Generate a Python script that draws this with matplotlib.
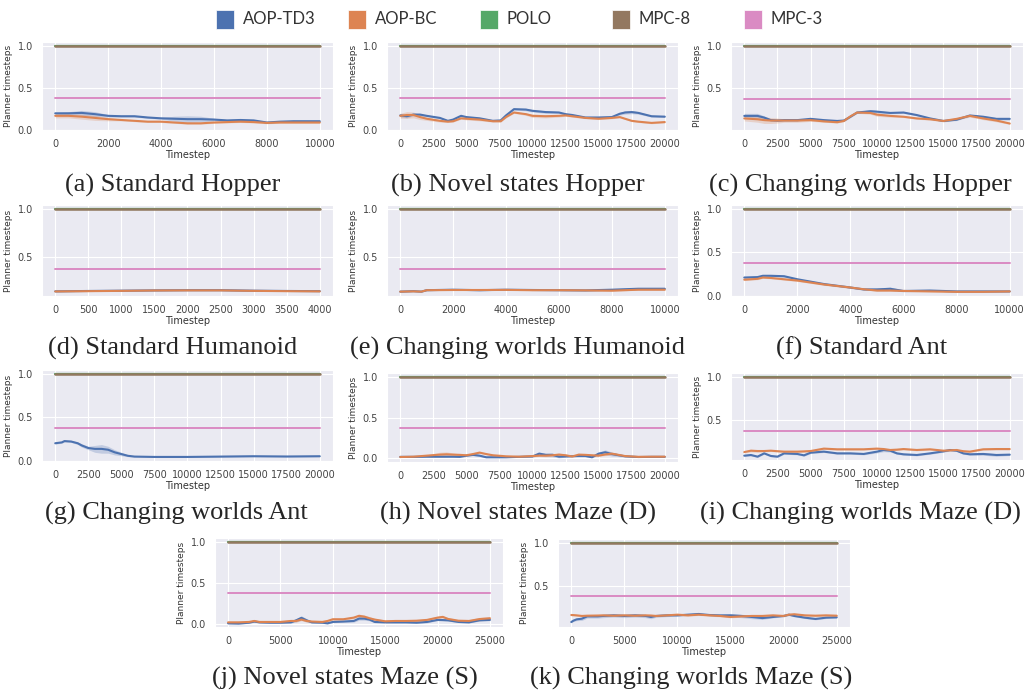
import matplotlib
matplotlib.use("Agg")
import matplotlib.pyplot as plt
import matplotlib.patches as mpatches
from matplotlib.ticker import MultipleLocator
import seaborn as sns
import numpy as np

sns.set_style("darkgrid")
plt.rcParams['font.family'] = ['DejaVu Sans']

# ---- data ----
series_names = ["AOP-TD3", "AOP-BC", "POLO", "MPC-8", "MPC-3"]
series_colors = ["#4C72B0", "#DD8452", "#55A868", "#937860", "#DA8BC3"]
polo_value = 1.0
mpc8_value = 1.0
mpc3_value = 0.375

captions = ["(a) Standard Hopper", "(b) Novel states Hopper", "(c) Changing worlds Hopper",
            "(d) Standard Humanoid", "(e) Changing worlds Humanoid", "(f) Standard Ant",
            "(g) Changing worlds Ant", "(h) Novel states Maze (D)", "(i) Changing worlds Maze (D)",
            "(j) Novel states Maze (S)", "(k) Changing worlds Maze (S)"]

a_x = [0, 500, 1000, 1500, 2000, 2500, 3000, 3500, 4000, 4500, 5000, 5500, 6000, 6500, 7000, 7500, 8000, 8500, 9000, 9500, 10000]
a_td3 = [0.195, 0.195, 0.2, 0.185, 0.165, 0.16, 0.16, 0.145, 0.135, 0.13, 0.125, 0.125, 0.12, 0.11, 0.115, 0.11, 0.085, 0.095, 0.1, 0.1, 0.1]
a_td3_sd = [0.01, 0.02, 0.03, 0.03, 0.015, 0.01, 0.01, 0.01, 0.01, 0.03, 0.04, 0.035, 0.015, 0.01, 0.01, 0.01, 0.01, 0.01, 0.01, 0.01, 0.01]
a_bc = [0.165, 0.165, 0.155, 0.14, 0.125, 0.115, 0.105, 0.095, 0.095, 0.085, 0.075, 0.075, 0.085, 0.09, 0.095, 0.09, 0.08, 0.085, 0.085, 0.085, 0.085]
a_bc_sd = [0.025, 0.025, 0.03, 0.03, 0.02, 0.01, 0.01, 0.01, 0.01, 0.01, 0.01, 0.01, 0.01, 0.01, 0.01, 0.01, 0.01, 0.01, 0.01, 0.01, 0.01]

b_x = [0, 500, 1000, 1500, 2000, 3000, 3600, 4000, 4600, 5000, 6000, 7000, 7600, 8000, 8600, 9500, 10000, 11000, 12000, 12500, 13000, 14000, 15000, 16000, 16600, 17000, 17500, 18000, 19000, 20000]
b_td3 = [0.17, 0.16, 0.18, 0.18, 0.165, 0.14, 0.105, 0.12, 0.165, 0.15, 0.135, 0.105, 0.11, 0.17, 0.245, 0.24, 0.225, 0.21, 0.205, 0.185, 0.175, 0.145, 0.145, 0.15, 0.19, 0.205, 0.21, 0.2, 0.16, 0.155]
b_td3_sd = [0.02, 0.02, 0.015, 0.01, 0.01, 0.01, 0.01, 0.01, 0.01, 0.01, 0.01, 0.01, 0.01, 0.01, 0.01, 0.015, 0.015, 0.015, 0.01, 0.01, 0.01, 0.01, 0.01, 0.01, 0.015, 0.02, 0.02, 0.015, 0.01, 0.01]
b_bc = [0.165, 0.175, 0.175, 0.15, 0.13, 0.105, 0.095, 0.1, 0.135, 0.13, 0.12, 0.1, 0.1, 0.15, 0.205, 0.185, 0.165, 0.16, 0.165, 0.17, 0.16, 0.14, 0.13, 0.14, 0.15, 0.13, 0.105, 0.095, 0.08, 0.09]
b_bc_sd = [0.03, 0.04, 0.035, 0.03, 0.02, 0.015, 0.01, 0.01, 0.01, 0.015, 0.015, 0.01, 0.01, 0.01, 0.01, 0.015, 0.02, 0.02, 0.015, 0.01, 0.01, 0.01, 0.01, 0.01, 0.01, 0.01, 0.01, 0.01, 0.01, 0.01]

c_x = [0, 1000, 1500, 2000, 2500, 3000, 4000, 5000, 6000, 7000, 7500, 8000, 8500, 9500, 10000, 11000, 12000, 13000, 14000, 15000, 16000, 17000, 18000, 19000, 20000]
c_td3 = [0.175, 0.175, 0.155, 0.125, 0.12, 0.125, 0.125, 0.14, 0.125, 0.115, 0.12, 0.165, 0.215, 0.23, 0.225, 0.21, 0.215, 0.185, 0.145, 0.115, 0.13, 0.18, 0.165, 0.14, 0.14]
c_td3_sd = [0.03, 0.03, 0.02, 0.01, 0.01, 0.01, 0.01, 0.01, 0.01, 0.01, 0.01, 0.01, 0.01, 0.02, 0.015, 0.01, 0.01, 0.01, 0.01, 0.01, 0.01, 0.01, 0.01, 0.015, 0.015]
c_bc = [0.145, 0.135, 0.125, 0.12, 0.12, 0.12, 0.12, 0.125, 0.11, 0.10, 0.115, 0.17, 0.215, 0.21, 0.19, 0.175, 0.165, 0.145, 0.135, 0.115, 0.14, 0.175, 0.145, 0.12, 0.085]
c_bc_sd = [0.03, 0.035, 0.04, 0.035, 0.03, 0.02, 0.02, 0.015, 0.01, 0.01, 0.01, 0.01, 0.01, 0.015, 0.02, 0.015, 0.01, 0.01, 0.01, 0.01, 0.01, 0.015, 0.015, 0.015, 0.01]

d_x = [0, 500, 1000, 1500, 2000, 2500, 3000, 3500, 4000]
d_td3 = [0.148, 0.152, 0.155, 0.158, 0.16, 0.16, 0.155, 0.152, 0.15]
d_td3_sd = [0.004, 0.004, 0.004, 0.004, 0.004, 0.004, 0.004, 0.004, 0.004]
d_bc = [0.147, 0.15, 0.153, 0.157, 0.158, 0.158, 0.153, 0.15, 0.148]
d_bc_sd = [0.004, 0.004, 0.004, 0.004, 0.004, 0.004, 0.004, 0.004, 0.004]

e_x = [0, 500, 800, 1000, 2000, 3000, 4000, 5000, 6000, 7000, 8000, 9000, 10000]
e_td3 = [0.145, 0.15, 0.145, 0.16, 0.165, 0.16, 0.165, 0.162, 0.16, 0.158, 0.165, 0.175, 0.175]
e_td3_sd = [0.004, 0.004, 0.004, 0.005, 0.005, 0.008, 0.005, 0.005, 0.005, 0.005, 0.01, 0.01, 0.01]
e_bc = [0.145, 0.148, 0.145, 0.16, 0.162, 0.162, 0.163, 0.16, 0.16, 0.158, 0.155, 0.165, 0.165]
e_bc_sd = [0.004, 0.004, 0.004, 0.005, 0.005, 0.005, 0.005, 0.005, 0.005, 0.005, 0.005, 0.005, 0.005]

f_x = [0, 500, 700, 1000, 1500, 2000, 3000, 4000, 4500, 5000, 5500, 6000, 7000, 8000, 9000, 10000]
f_td3 = [0.21, 0.215, 0.23, 0.23, 0.225, 0.19, 0.135, 0.095, 0.073, 0.073, 0.08, 0.055, 0.06, 0.05, 0.05, 0.05]
f_td3_sd = [0.01, 0.01, 0.01, 0.01, 0.01, 0.01, 0.01, 0.01, 0.01, 0.015, 0.02, 0.01, 0.008, 0.005, 0.005, 0.005]
f_bc = [0.185, 0.195, 0.21, 0.205, 0.19, 0.175, 0.13, 0.095, 0.075, 0.06, 0.06, 0.055, 0.05, 0.045, 0.045, 0.05]
f_bc_sd = [0.01, 0.01, 0.01, 0.01, 0.01, 0.01, 0.01, 0.01, 0.008, 0.008, 0.008, 0.005, 0.005, 0.005, 0.005, 0.005]

g_x = [0, 500, 700, 1200, 1700, 2000, 2500, 3000, 3500, 4000, 4500, 5000, 5500, 6000, 7500, 10000, 12500, 15000, 17500, 20000]
g_td3 = [0.2, 0.21, 0.225, 0.22, 0.2, 0.175, 0.145, 0.135, 0.135, 0.125, 0.095, 0.075, 0.055, 0.046, 0.042, 0.042, 0.046, 0.05, 0.047, 0.05]
g_td3_sd = [0.01, 0.01, 0.01, 0.01, 0.015, 0.02, 0.02, 0.04, 0.05, 0.04, 0.03, 0.02, 0.01, 0.005, 0.005, 0.005, 0.005, 0.005, 0.005, 0.005]

h_x = [0, 1000, 2000, 3000, 3500, 4000, 4500, 5000, 5500, 6000, 6500, 7000, 8000, 9000, 10000, 10500, 11000, 11500, 12000, 12500, 13000, 13500, 14000, 14500, 15000, 15500, 16000, 17000, 18000, 19000, 20000]
h_td3 = [0.01, 0.01, 0.012, 0.012, 0.012, 0.012, 0.01, 0.025, 0.035, 0.025, 0.005, 0.005, 0.005, 0.01, 0.015, 0.05, 0.035, 0.035, 0.012, 0.015, 0.018, 0.02, 0.02, 0.005, 0.05, 0.067, 0.045, 0.017, 0.008, 0.01, 0.01]
h_td3_sd = [0.005, 0.005, 0.005, 0.005, 0.005, 0.005, 0.005, 0.01, 0.01, 0.01, 0.005, 0.005, 0.005, 0.005, 0.01, 0.02, 0.02, 0.025, 0.015, 0.01, 0.005, 0.005, 0.005, 0.005, 0.02, 0.03, 0.025, 0.01, 0.005, 0.005, 0.005]
h_bc = [0.008, 0.012, 0.025, 0.038, 0.042, 0.038, 0.035, 0.03, 0.045, 0.063, 0.045, 0.03, 0.017, 0.012, 0.02, 0.025, 0.025, 0.03, 0.038, 0.03, 0.015, 0.038, 0.035, 0.03, 0.025, 0.04, 0.05, 0.02, 0.01, 0.012, 0.012]
h_bc_sd = [0.005, 0.005, 0.01, 0.03, 0.03, 0.02, 0.01, 0.01, 0.01, 0.01, 0.01, 0.01, 0.005, 0.005, 0.01, 0.01, 0.015, 0.015, 0.02, 0.015, 0.01, 0.015, 0.01, 0.01, 0.01, 0.015, 0.015, 0.01, 0.005, 0.005, 0.005]

i_x = [0, 500, 1000, 1500, 2000, 2500, 3000, 4000, 4500, 5000, 6000, 7000, 8000, 9000, 10000, 10500, 11000, 11500, 12000, 13000, 14000, 15000, 15500, 16000, 16500, 17000, 18000, 19000, 20000]
i_td3 = [0.088, 0.096, 0.077, 0.115, 0.085, 0.077, 0.115, 0.108, 0.092, 0.123, 0.135, 0.115, 0.115, 0.108, 0.135, 0.154, 0.146, 0.115, 0.104, 0.096, 0.115, 0.138, 0.154, 0.146, 0.115, 0.104, 0.108, 0.096, 0.1]
i_td3_sd = [0.01, 0.01, 0.01, 0.01, 0.01, 0.01, 0.01, 0.01, 0.01, 0.01, 0.01, 0.01, 0.01, 0.01, 0.015, 0.02, 0.015, 0.01, 0.01, 0.01, 0.01, 0.01, 0.01, 0.01, 0.01, 0.01, 0.015, 0.015, 0.01]
i_bc = [0.13, 0.146, 0.142, 0.142, 0.146, 0.14, 0.135, 0.135, 0.138, 0.142, 0.17, 0.162, 0.162, 0.162, 0.17, 0.165, 0.154, 0.158, 0.165, 0.154, 0.162, 0.146, 0.15, 0.154, 0.14, 0.135, 0.162, 0.165, 0.165]
i_bc_sd = [0.01, 0.015, 0.015, 0.01, 0.01, 0.01, 0.01, 0.01, 0.01, 0.01, 0.01, 0.01, 0.01, 0.01, 0.01, 0.01, 0.01, 0.01, 0.01, 0.01, 0.01, 0.01, 0.01, 0.01, 0.01, 0.01, 0.01, 0.01, 0.01]

j_x = [0, 1000, 2000, 2500, 3000, 4000, 5000, 6000, 6500, 7000, 7500, 8000, 9000, 9500, 10000, 11000, 12000, 12500, 13000, 13500, 14000, 15000, 16000, 17000, 18000, 19000, 20000, 20500, 21000, 22000, 23000, 24000, 25000]
j_td3 = [0.008, 0.005, 0.016, 0.03, 0.02, 0.016, 0.016, 0.02, 0.045, 0.075, 0.045, 0.02, 0.016, 0.008, 0.025, 0.03, 0.037, 0.066, 0.066, 0.054, 0.025, 0.02, 0.02, 0.02, 0.016, 0.025, 0.05, 0.048, 0.045, 0.025, 0.02, 0.045, 0.05]
j_td3_sd = [0.008, 0.008, 0.008, 0.008, 0.008, 0.008, 0.008, 0.01, 0.02, 0.025, 0.02, 0.01, 0.008, 0.008, 0.008, 0.01, 0.015, 0.02, 0.02, 0.015, 0.01, 0.008, 0.008, 0.008, 0.008, 0.01, 0.01, 0.01, 0.01, 0.008, 0.008, 0.01, 0.01]
j_bc = [0.02, 0.02, 0.025, 0.037, 0.025, 0.025, 0.025, 0.037, 0.037, 0.054, 0.037, 0.03, 0.025, 0.037, 0.058, 0.058, 0.078, 0.1, 0.09, 0.07, 0.054, 0.033, 0.037, 0.037, 0.04, 0.05, 0.078, 0.087, 0.062, 0.04, 0.037, 0.06, 0.07]
j_bc_sd = [0.012, 0.012, 0.012, 0.015, 0.012, 0.012, 0.012, 0.015, 0.015, 0.015, 0.015, 0.012, 0.012, 0.012, 0.012, 0.012, 0.015, 0.02, 0.02, 0.02, 0.015, 0.012, 0.012, 0.012, 0.012, 0.015, 0.015, 0.015, 0.015, 0.012, 0.015, 0.02, 0.02]

k_x = [0, 200, 500, 1000, 1500, 2500, 3000, 4000, 5000, 6000, 7000, 7500, 8000, 9000, 10000, 11000, 12000, 13000, 14000, 15000, 16000, 17000, 18000, 19000, 20000, 20500, 21000, 22000, 23000, 24000, 25000]
k_td3 = [0.074, 0.09, 0.105, 0.113, 0.14, 0.14, 0.145, 0.152, 0.145, 0.152, 0.145, 0.133, 0.145, 0.152, 0.152, 0.16, 0.168, 0.156, 0.152, 0.152, 0.145, 0.133, 0.12, 0.133, 0.145, 0.16, 0.145, 0.125, 0.11, 0.125, 0.129]
k_td3_sd = [0.01, 0.01, 0.015, 0.02, 0.02, 0.02, 0.02, 0.02, 0.02, 0.02, 0.02, 0.02, 0.015, 0.015, 0.01, 0.01, 0.01, 0.01, 0.01, 0.02, 0.02, 0.02, 0.015, 0.01, 0.01, 0.01, 0.01, 0.01, 0.01, 0.01, 0.01]
k_bc = [0.156, 0.155, 0.152, 0.145, 0.148, 0.15, 0.152, 0.148, 0.152, 0.148, 0.152, 0.15, 0.145, 0.152, 0.16, 0.152, 0.16, 0.152, 0.145, 0.133, 0.14, 0.145, 0.145, 0.152, 0.145, 0.16, 0.165, 0.152, 0.148, 0.152, 0.148]
k_bc_sd = [0.01, 0.01, 0.01, 0.01, 0.01, 0.01, 0.01, 0.01, 0.01, 0.01, 0.01, 0.01, 0.01, 0.01, 0.01, 0.01, 0.01, 0.01, 0.01, 0.01, 0.01, 0.01, 0.01, 0.01, 0.01, 0.01, 0.01, 0.01, 0.01, 0.01, 0.01]

panels = [
    (a_x, a_td3, a_td3_sd, a_bc, a_bc_sd),
    (b_x, b_td3, b_td3_sd, b_bc, b_bc_sd),
    (c_x, c_td3, c_td3_sd, c_bc, c_bc_sd),
    (d_x, d_td3, d_td3_sd, d_bc, d_bc_sd),
    (e_x, e_td3, e_td3_sd, e_bc, e_bc_sd),
    (f_x, f_td3, f_td3_sd, f_bc, f_bc_sd),
    (g_x, g_td3, g_td3_sd, None, None),
    (h_x, h_td3, h_td3_sd, h_bc, h_bc_sd),
    (i_x, i_td3, i_td3_sd, i_bc, i_bc_sd),
    (j_x, j_td3, j_td3_sd, j_bc, j_bc_sd),
    (k_x, k_td3, k_td3_sd, k_bc, k_bc_sd),
]

# ---- layout (pixel boxes: left, top, right, bottom) ----
W, H = 1027, 696
boxes = [(42, 42, 333, 130), (387, 42, 678, 130), (731, 42, 1023, 130),
         (42, 205, 333, 296), (387, 205, 678, 296), (731, 205, 1023, 296),
         (42, 370, 333, 461), (387, 373, 678, 462), (731, 373, 1023, 460),
         (215, 538, 503, 627), (558, 539, 850, 627)]
ylims = [(-0.005, 1.05), (-0.005, 1.05), (0.008, 1.05),
         (0.10, 1.04), (0.10, 1.04), (-0.003, 1.046),
         (-0.005, 1.046), (-0.054, 1.054), (0.038, 1.046),
         (-0.037, 1.053), (0.016, 1.043)]
xsteps = [2000, 2500, 2500, 500, 2000, 2000, 2500, 2500, 2500, 5000, 5000]
caption_pos = [(173, 185), (518, 185), (860, 185),
               (173, 348), (518, 348), (862, 348),
               (176, 513), (518, 513), (860, 513),
               (345, 678), (691, 678)]

fig = plt.figure(figsize=(W / 100, H / 100), dpi=100)

for idx, (x, td3, td3_sd, bc, bc_sd) in enumerate(panels):
    l, t, r, b = boxes[idx]
    ax = fig.add_axes([l / W, 1 - b / H, (r - l) / W, (b - t) / H])
    x = np.array(x)
    td3 = np.array(td3)
    td3_sd = np.array(td3_sd)
    ax.fill_between(x, td3 - td3_sd, td3 + td3_sd, color=series_colors[0], alpha=0.25, lw=0)
    ax.plot(x, td3, color=series_colors[0], lw=1.5)
    if bc is not None:
        bc = np.array(bc)
        bc_sd = np.array(bc_sd)
        ax.fill_between(x, bc - bc_sd, bc + bc_sd, color=series_colors[1], alpha=0.25, lw=0)
        ax.plot(x, bc, color=series_colors[1], lw=1.5)
    xs = [x[0], x[-1]]
    ax.plot(xs, [polo_value, polo_value], color=series_colors[2], lw=1.6)
    ax.plot(xs, [mpc8_value, mpc8_value], color=series_colors[3], lw=1.8)
    ax.plot(xs, [mpc3_value, mpc3_value], color=series_colors[4], lw=1.4)

    ax.set_xlim(x[0] - 0.05 * (x[-1] - x[0]), x[-1] + 0.05 * (x[-1] - x[0]))
    ax.set_ylim(*ylims[idx])
    ax.xaxis.set_major_locator(MultipleLocator(xsteps[idx]))
    ax.yaxis.set_major_locator(MultipleLocator(0.5))
    ax.tick_params(labelsize=7, pad=3, colors="#444444")
    ax.set_xlabel("Timestep", fontsize=7, labelpad=1, color="#333333")
    ax.set_ylabel("Planner timesteps", fontsize=6.5, labelpad=3, color="#333333")

    cx, cy = caption_pos[idx]
    fig.text(cx / W, 1 - cy / H, captions[idx], ha="center", va="center",
             fontsize=19, family="Liberation Serif")

# ---- legend with evenly spaced entries ----
for i, (name, color) in enumerate(zip(series_names, series_colors)):
    hx = 216 + i * 132
    fig.patches.append(mpatches.Rectangle(((hx) / W, 1 - 29 / H), 18 / W, 19 / H,
                                          transform=fig.transFigure, facecolor=color,
                                          edgecolor="white", lw=0.5))
    fig.text((hx + 27) / W, 1 - 19.5 / H, name, ha="left", va="center",
             fontsize=12, family="Lato", color="#333333")

fig.savefig("out.png", dpi=100)
